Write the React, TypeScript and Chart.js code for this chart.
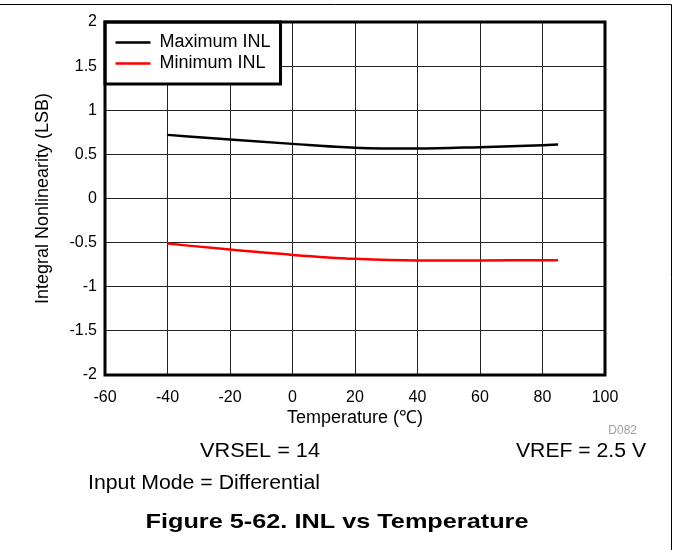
import React, { useEffect, useRef } from "react";
import { Chart, registerables } from "chart.js";

Chart.register(...registerables);

// ---- data ----
const temperatures = [-40, -20, 0, 20, 40, 60, 80, 85];
const maxInl = [0.721, 0.668, 0.619, 0.576, 0.566, 0.582, 0.604, 0.611];
const minInl = [-0.511, -0.579, -0.639, -0.684, -0.703, -0.703, -0.699, -0.699];
const seriesNames = ["Maximum INL", "Minimum INL"];
const seriesColors = ["#000000", "#ff0000"];
const xRange = [-60, 100];
const xStep = 20;
const yRange = [-2, 2];
const yStep = 0.5;
const xTitle = "Temperature (\u2103)";
const yTitle = "Integral Nonlinearity (LSB)";
const noteLeft = "VRSEL = 14";
const noteRight = "VREF = 2.5 V";
const noteMode = "Input Mode = Differential";
const figureTitle = "Figure 5-62. INL vs Temperature";
const docId = "D082";

const FONT = "'Liberation Sans', Arial, sans-serif";

function fitText(
  ctx: CanvasRenderingContext2D,
  text: string,
  x: number,
  y: number,
  font: string,
  align: CanvasTextAlign,
  targetWidth: number
) {
  ctx.save();
  ctx.font = font;
  const w = ctx.measureText(text).width;
  const sx = targetWidth / w;
  ctx.translate(x, y);
  ctx.scale(sx, 1);
  ctx.textAlign = align;
  ctx.textBaseline = "alphabetic";
  ctx.fillStyle = "#000";
  ctx.fillText(text, 0, 0);
  ctx.restore();
}

const LEG_PAD = 3;
const LEG_FONT = 18;

const decor = {
  id: "decor",
  afterLayout(chart: any) {
    const lg = chart.legend;
    const ca = chart.chartArea;
    if (lg && ca) {
      lg.left = ca.left + 7.5;
      lg.right = lg.left + lg.width;
      lg.top = ca.top + 8.5;
      lg.bottom = lg.top + lg.height;
    }
  },
  beforeDatasetsDraw(chart: any) {
    const ctx = chart.ctx as CanvasRenderingContext2D;
    const ca = chart.chartArea;
    const lg = chart.legend;
    const right = lg.left + lg.width;
    const bottom = lg.top + LEG_PAD + 2 * (LEG_FONT + LEG_PAD) + 8.5;
    ctx.save();
    ctx.fillStyle = "#fff";
    ctx.fillRect(ca.left, ca.top, right - ca.left, bottom - ca.top);
    ctx.restore();
    lg.draw();
    ctx.save();
    ctx.strokeStyle = "#000";
    ctx.lineWidth = 3;
    ctx.strokeRect(ca.left, ca.top, right - ca.left, bottom - ca.top);
    ctx.restore();
  },
  afterDraw(chart: any) {
    const ctx = chart.ctx as CanvasRenderingContext2D;
    const ca = chart.chartArea;
    ctx.save();
    // plot frame
    ctx.strokeStyle = "#000";
    ctx.lineWidth = 3;
    ctx.strokeRect(ca.left, ca.top, ca.right - ca.left, ca.bottom - ca.top);
    // outer page frame
    ctx.lineWidth = 1;
    ctx.beginPath();
    ctx.moveTo(0, 4.5);
    ctx.lineTo(671.5, 4.5);
    ctx.lineTo(671.5, 550);
    ctx.stroke();
    // document id
    ctx.font = `12px ${FONT}`;
    ctx.fillStyle = "#a0a0a0";
    ctx.textAlign = "right";
    ctx.textBaseline = "alphabetic";
    ctx.fillText(docId, 637, 434);
    ctx.restore();
    // notes
    fitText(ctx, noteLeft, 260, 457, `20px ${FONT}`, "center", 120);
    fitText(ctx, noteRight, 646, 457, `20px ${FONT}`, "right", 130);
    fitText(ctx, noteMode, 88, 489, `20px ${FONT}`, "left", 232);
    fitText(ctx, figureTitle, 337, 528, `bold 21px ${FONT}`, "center", 383);
  },
};

export default function App() {
  const ref = useRef<HTMLCanvasElement>(null);
  useEffect(() => {
    const canvas = ref.current;
    if (!canvas) return;
    const chart = new Chart(canvas, {
      type: "line",
      data: {
        datasets: [
          {
            label: seriesNames[0],
            data: temperatures.map((t, i) => ({ x: t, y: maxInl[i] })),
            borderColor: seriesColors[0],
            backgroundColor: seriesColors[0],
            borderWidth: 2.5,
            pointRadius: 0,
            cubicInterpolationMode: "monotone",
          },
          {
            label: seriesNames[1],
            data: temperatures.map((t, i) => ({ x: t, y: minInl[i] })),
            borderColor: seriesColors[1],
            backgroundColor: seriesColors[1],
            borderWidth: 2.5,
            pointRadius: 0,
            cubicInterpolationMode: "monotone",
          },
        ],
      },
      options: {
        animation: false,
        responsive: false,
        devicePixelRatio: 1,
        layout: { padding: { left: 0, top: 22, right: 68, bottom: 0 } },
        plugins: {
          legend: {
            position: "chartArea" as any,
            align: "start",
            labels: {
              font: { family: FONT, size: LEG_FONT },
              color: "#000",
              boxWidth: 35,
              boxHeight: 0,
              padding: LEG_PAD,
            },
          },
          tooltip: { enabled: false },
        },
        scales: {
          x: {
            type: "linear",
            min: xRange[0],
            max: xRange[1],
            ticks: {
              stepSize: xStep,
              font: { family: FONT, size: 16 },
              color: "#000",
              padding: 13,
              maxRotation: 0,
              callback: (v: any) => String(v),
            },
            grid: { color: "#222", lineWidth: 1, drawTicks: false },
            border: { display: false },
            title: {
              display: true,
              text: xTitle,
              font: { family: FONT, size: 18 },
              color: "#000",
              padding: { top: 0, bottom: 121 },
            },
            afterFit: (scale: any) => {
              scale.height = 175;
            },
          },
          y: {
            type: "linear",
            min: yRange[0],
            max: yRange[1],
            ticks: {
              stepSize: yStep,
              font: { family: FONT, size: 16 },
              color: "#000",
              padding: 8,
              callback: (v: any) => String(v),
            },
            grid: { color: "#222", lineWidth: 1, drawTicks: false },
            border: { display: false },
            title: {
              display: true,
              text: yTitle,
              font: { family: FONT, size: 18 },
              color: "#000",
              padding: { top: 32, bottom: 0 },
            },
            afterFit: (scale: any) => {
              scale.width = 105;
            },
          },
        },
      },
      plugins: [decor],
    } as any);
    return () => chart.destroy();
  }, []);
  return (
    <div
      style={{
        position: "absolute",
        left: 0,
        top: 0,
        width: 673,
        height: 550,
        background: "#fff",
      }}
    >
      <canvas
        ref={ref}
        width={673}
        height={550}
        style={{ display: "block", width: 673, height: 550 }}
      />
    </div>
  );
}
